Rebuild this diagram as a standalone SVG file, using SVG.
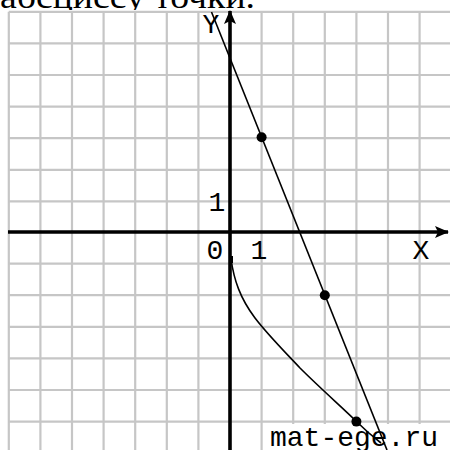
<svg xmlns="http://www.w3.org/2000/svg" width="450" height="450" viewBox="0 0 450 450">
<style>
.grid line{stroke:#c6c6c6;stroke-width:2.2}
.axis{stroke:#000;stroke-width:3.6;fill:none}
.curve{stroke:#000;stroke-width:1.6;fill:none}
.dot{fill:#000}
.lbl{font-family:"Liberation Mono","Courier New",monospace;font-size:28px;fill:#000;text-anchor:middle}
</style>
<defs>
<marker id="arr" viewBox="0 0 14 12" refX="13" refY="6" markerWidth="14" markerHeight="12" markerUnits="userSpaceOnUse" orient="auto">
<path d="M0,0 L14,6 L0,12 L3,6 Z" fill="#000"/>
</marker>
</defs>
<rect x="0" y="0" width="450" height="450" fill="#fff"/>
<text x="0" y="7.5" font-family="'Liberation Serif','Times New Roman',serif" font-size="34" textLength="255" lengthAdjust="spacingAndGlyphs" fill="#000">абсциссу точки.</text>
<rect x="0" y="10" width="450" height="440" fill="#fff"/>
<g class="grid" id="grid">
<line x1="8.8" y1="11.8" x2="8.8" y2="450"/>
<line x1="40.4" y1="11.8" x2="40.4" y2="450"/>
<line x1="72" y1="11.8" x2="72" y2="450"/>
<line x1="103.6" y1="11.8" x2="103.6" y2="450"/>
<line x1="135.2" y1="11.8" x2="135.2" y2="450"/>
<line x1="166.8" y1="11.8" x2="166.8" y2="450"/>
<line x1="198.4" y1="11.8" x2="198.4" y2="450"/>
<line x1="261.6" y1="11.8" x2="261.6" y2="450"/>
<line x1="293.2" y1="11.8" x2="293.2" y2="450"/>
<line x1="324.8" y1="11.8" x2="324.8" y2="450"/>
<line x1="356.4" y1="11.8" x2="356.4" y2="450"/>
<line x1="388" y1="11.8" x2="388" y2="450"/>
<line x1="419.6" y1="11.8" x2="419.6" y2="450"/>
<line x1="8.8" y1="11.8" x2="450" y2="11.8"/>
<line x1="8.8" y1="43.4" x2="450" y2="43.4"/>
<line x1="8.8" y1="75" x2="450" y2="75"/>
<line x1="8.8" y1="106.6" x2="450" y2="106.6"/>
<line x1="8.8" y1="138.2" x2="450" y2="138.2"/>
<line x1="8.8" y1="169.8" x2="450" y2="169.8"/>
<line x1="8.8" y1="201.4" x2="450" y2="201.4"/>
<line x1="8.8" y1="263.6" x2="450" y2="263.6"/>
<line x1="8.8" y1="295.2" x2="450" y2="295.2"/>
<line x1="8.8" y1="326.8" x2="450" y2="326.8"/>
<line x1="8.8" y1="358.4" x2="450" y2="358.4"/>
<line x1="8.8" y1="390" x2="450" y2="390"/>
<line x1="8.8" y1="421.6" x2="450" y2="421.6"/>
</g>
<rect x="268" y="424" width="182" height="26" fill="#fff"/>
<g id="x-axis">
<line class="axis" x1="8" y1="232" x2="448" y2="232" marker-end="url(#arr)"/>
</g>
<g id="y-axis">
<line class="axis" x1="230" y1="450" x2="230" y2="11" marker-end="url(#arr)"/>
</g>
<g id="labels">
<text class="lbl" x="211" y="33">Y</text>
<text class="lbl" x="421" y="259">X</text>
<text class="lbl" x="217" y="211">1</text>
<text class="lbl" x="215" y="259">0</text>
<text class="lbl" x="259" y="259">1</text>
<text class="lbl" x="354" y="446" textLength="168" lengthAdjust="spacingAndGlyphs">mat-ege.ru</text>
</g>
<g id="connectors">
<line class="curve" x1="211.5" y1="12" x2="387" y2="450"/>
<path class="curve" d="M231,259 C234,280 240,298 255,318 C268,335 285,352 300,368 C320,388 345,410 357,422 C365,430 372,436 381,443"/>
<rect x="229" y="256" width="4" height="7" fill="#000"/>
</g>
<g id="points">
<circle class="dot" cx="261.6" cy="137.2" r="5"/>
<circle class="dot" cx="324.8" cy="295.2" r="5"/>
<circle class="dot" cx="356.4" cy="421.6" r="5"/>
</g>
</svg>
